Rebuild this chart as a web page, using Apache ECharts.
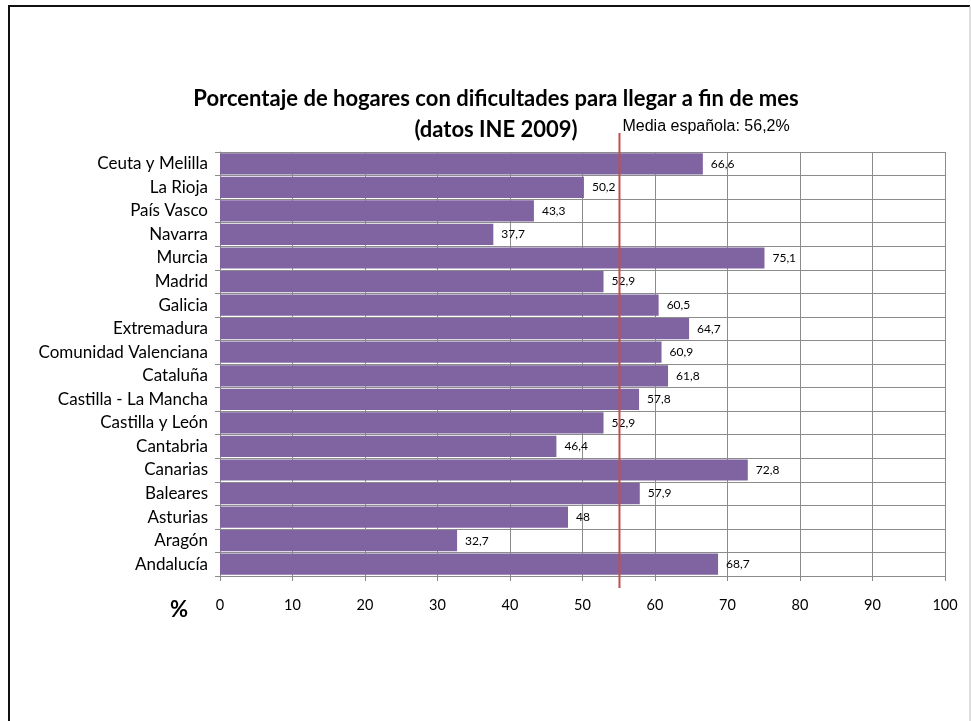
<!DOCTYPE html>
<html>
<head>
<meta charset="utf-8">
<script src="https://cdn.jsdelivr.net/npm/echarts@6/dist/echarts.min.js"></script>
<style>html,body{margin:0;padding:0;background:#fff}#c{width:971px;height:721px}</style>
</head>
<body>
<div id="c"></div>
<script>
const categories = ["Ceuta y Melilla","La Rioja","País Vasco","Navarra","Murcia","Madrid","Galicia","Extremadura","Comunidad Valenciana","Cataluña","Castilla - La Mancha","Castilla y León","Cantabria","Canarias","Baleares","Asturias","Aragón","Andalucía"];
const values = [66.6,50.2,43.3,37.7,75.1,52.9,60.5,64.7,60.9,61.8,57.8,52.9,46.4,72.8,57.9,48,32.7,68.7];
const xTicks = [0,10,20,30,40,50,60,70,80,90,100];
const meanLineValue = 55.1;
const meanLabel = "Media española: 56,2%";
const titleLines = ["Porcentaje de hogares con dificultades para llegar a fin de mes", "(datos INE 2009)"];

const chart = echarts.init(document.getElementById('c'), null, {renderer:'canvas'});
const font = 'Lato, "Open Sans", sans-serif';
chart.setOption({
  animation:false,
  backgroundColor:'#fff',
  title:{
    text: titleLines.join('\n'),
    left: 491, top: 78, textAlign:'center',
    textStyle:{fontFamily:font, fontWeight:'bold', fontSize:22, color:'#000', lineHeight:31}
  },
  grid:{left:220, right:26, top:152, bottom:145, containLabel:false},
  xAxis:{
    type:'value', min:xTicks[0], max:xTicks[xTicks.length-1], interval:10,
    axisLine:{show:false},
    axisTick:{show:true, length:5, lineStyle:{color:'#888'}},
    axisLabel:{fontFamily:font, fontSize:14.5, color:'#000', margin:22},
    splitLine:{show:true, lineStyle:{color:'#8c8c8c', width:1}}
  },
  yAxis:{
    type:'category', data:categories, inverse:true,
    axisLine:{show:true, lineStyle:{color:'#8c8c8c'}},
    axisTick:{show:true, length:5, lineStyle:{color:'#8c8c8c'}},
    axisLabel:{fontFamily:font, fontSize:17, color:'#000', margin:12},
    splitLine:{show:true, lineStyle:{color:'#8c8c8c', width:1}}
  },
  series:[{
    type:'bar', data:values, barCategoryGap:'10%',
    itemStyle:{color:'#8064A2'},
    label:{show:true, position:'right', distance:8, fontFamily:font, fontSize:12, color:'#000',
      formatter:p=>String(p.value).replace('.',',')}
  }]
});

const xPix = chart.convertToPixel({xAxisIndex:0}, meanLineValue);
chart.setOption({
  graphic:[
    {type:'line', shape:{x1:9, y1:6, x2:9, y2:730}, style:{stroke:'#111', lineWidth:2}},
    {type:'line', shape:{x1:8, y1:6, x2:970, y2:6}, style:{stroke:'#111', lineWidth:2}},
    {type:'line', shape:{x1:970, y1:6, x2:970, y2:730}, style:{stroke:'#bbb', lineWidth:1}},
    {type:'line', shape:{x1:xPix, y1:133, x2:xPix, y2:588}, style:{stroke:'#C0504D', lineWidth:2}, z:10},
    {type:'text', x:xPix+3, y:127, style:{text:meanLabel, fontFamily:'"Liberation Sans", Arial, sans-serif', fontSize:16, fill:'#000', textVerticalAlign:'middle'}, z:10},
    {type:'text', x:179, y:610, style:{text:'%', fontFamily:font, fontWeight:'bold', fontSize:22, fill:'#000', textAlign:'center', textVerticalAlign:'middle'}}
  ]
});
</script>
</body>
</html>
